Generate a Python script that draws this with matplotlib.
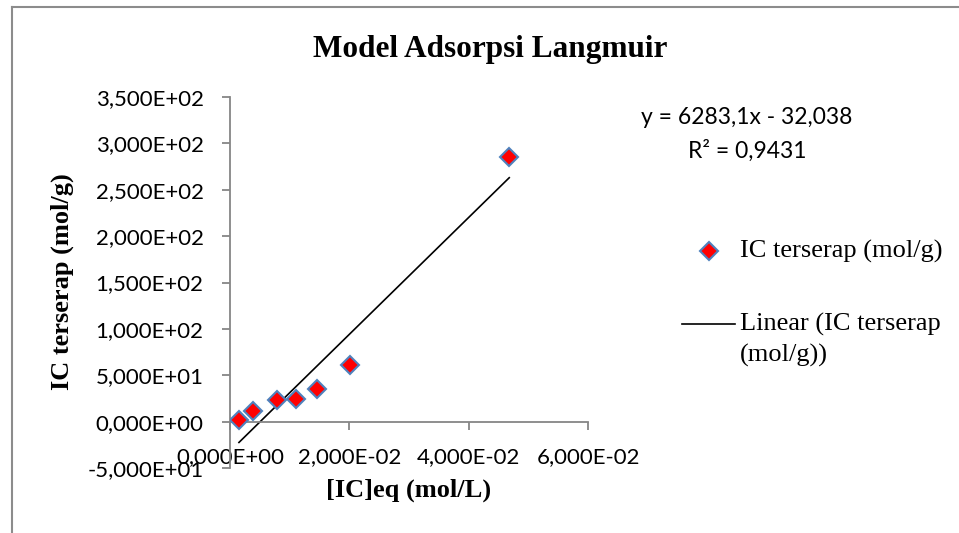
import numpy as np
import matplotlib.pyplot as plt
from matplotlib.lines import Line2D
from matplotlib.ticker import FuncFormatter, MultipleLocator

# data
ic_eq = [0.0015, 0.0039, 0.0079, 0.0110, 0.0146, 0.0201, 0.0468]   # [IC]eq (mol/L)
ic_ads = [2.2, 11.8, 23.7, 24.8, 35.2, 60.6, 285.0]                # IC terserap (mol/g)
eq_text = "y = 6283,1x - 32,038"
r2_text = "R² = 0,9431"

x = np.array(ic_eq)
y = np.array(ic_ads)
slope, icept = np.polyfit(x, y, 1)
xfit = np.array([x.min(), x.max()])

W, H = 959, 533
fig = plt.figure(figsize=(W / 100, H / 100), dpi=100)
ax = fig.add_axes([230 / W, 1 - 468 / H, 358 / W, 371 / H])

sans = 'Lato'
serif = 'Liberation Serif'
grey = '#868686'

ax.plot(xfit, slope * xfit + icept, color='black', lw=1.2, zorder=2)
ax.plot(x, y, linestyle='none', marker='D', markersize=9.5,
        markerfacecolor='#ff0000', markeredgecolor='#4f81bd',
        markeredgewidth=1.5, zorder=3)

ax.set_xlim(0, 0.06)
ax.set_ylim(-50, 350)
ax.xaxis.set_major_locator(MultipleLocator(0.02))
ax.yaxis.set_major_locator(MultipleLocator(50))

fmt = FuncFormatter(lambda v, p: f"{v:.3E}".replace('.', ','))
ax.xaxis.set_major_formatter(fmt)
ax.yaxis.set_major_formatter(fmt)

for s in ['top', 'right']:
    ax.spines[s].set_visible(False)
ax.spines['bottom'].set_position(('data', 0))
for s in ['left', 'bottom']:
    ax.spines[s].set_color(grey)
    ax.spines[s].set_linewidth(1.3)
ax.tick_params(direction='out', length=6, width=1.3, color=grey, pad=13)
ax.tick_params(axis='x', pad=12)
for lab in ax.get_xticklabels() + ax.get_yticklabels():
    lab.set_fontfamily(sans)
    lab.set_fontsize(16)

ax.patch.set_alpha(0)

# title and axis labels
fig.text(490 / W, 1 - 57 / H, "Model Adsorpsi Langmuir", family=serif,
         weight='bold', fontsize=22.5, ha='center', va='baseline')
fig.text(409 / W, 1 - 490 / H, "[IC]eq (mol/L)", family=serif,
         weight='bold', fontsize=19, ha='center', va='center')
fig.text(62 / W, 1 - 282 / H, "IC terserap (mol/g)", family=serif,
         weight='bold', fontsize=19, ha='center', va='center', rotation=90)

# trendline equation
fig.text(747 / W, 1 - 118 / H, eq_text, family=sans, fontsize=16.5,
         ha='center', va='center')
fig.text(747 / W, 1 - 151 / H, r2_text, family=sans, fontsize=16.5,
         ha='center', va='center')

# legend (drawn by hand to keep Excel's layout)
fig.add_artist(Line2D([709 / W], [1 - 251 / H], marker='D', markersize=9,
                      markerfacecolor='#ff0000', markeredgecolor='#4f81bd',
                      markeredgewidth=1.5, linestyle='none'))
fig.text(740 / W, 1 - 251 / H, "IC terserap (mol/g)", family=serif,
         fontsize=19, ha='left', va='center')
fig.add_artist(Line2D([682 / W, 735 / W], [1 - 324 / H] * 2, color='black', lw=1.2))
fig.text(740 / W, 1 - 324 / H, "Linear (IC terserap", family=serif,
         fontsize=19, ha='left', va='center')
fig.text(740 / W, 1 - 355 / H, "(mol/g))", family=serif,
         fontsize=19, ha='left', va='center')

# chart frame
fig.add_artist(Line2D([12 / W, 1], [1 - 7 / H] * 2, color='#8c8c8c', lw=1.5))
fig.add_artist(Line2D([12 / W, 12 / W], [1 - 7 / H, 0], color='#8c8c8c', lw=1.5))

fig.savefig('out.png', dpi=100)
